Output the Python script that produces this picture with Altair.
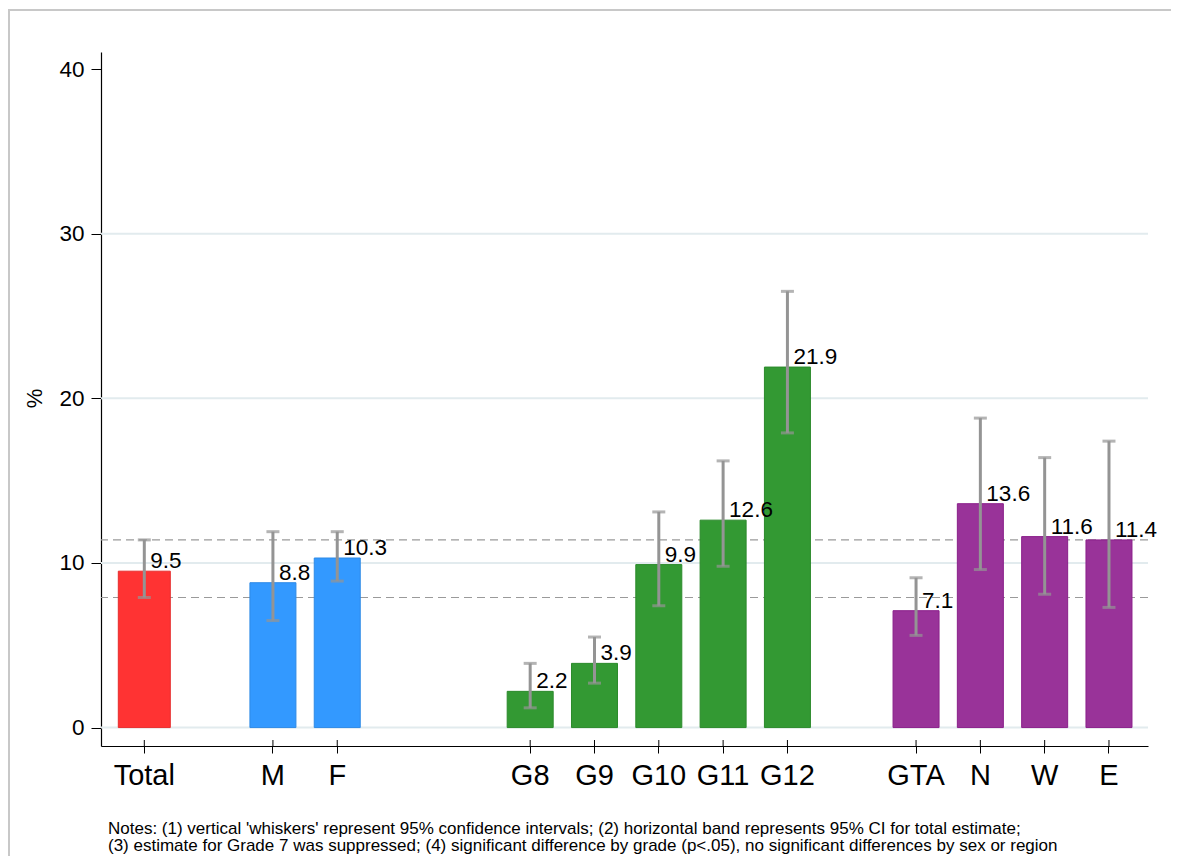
import altair as alt
import pandas as pd

# ---------------- data ----------------
categories = ["Total", "M", "F", "G7", "G8", "G9", "G10", "G11", "G12", "GTA", "N", "W", "E"]
groups = ["Total", "Sex", "Sex", "Grade", "Grade", "Grade", "Grade", "Grade", "Grade",
          "Region", "Region", "Region", "Region"]
estimates = [9.5, 8.8, 10.3, None, 2.2, 3.9, 9.9, 12.6, 21.9, 7.1, 13.6, 11.6, 11.4]
ci_low = [7.9, 6.5, 8.9, None, 1.2, 2.7, 7.4, 9.8, 17.9, 5.6, 9.6, 8.1, 7.3]
ci_high = [11.4, 11.9, 11.9, None, 3.9, 5.5, 13.1, 16.2, 26.5, 9.1, 18.8, 16.4, 17.4]

group_order = ["Total", "Sex", "Grade", "Region"]
group_colors = ["#FF3333", "#3399FF", "#339933", "#993399"]
group_strokes = ["#E62E2E", "#2E8AE6", "#2B8A2B", "#8A1F8A"]

y_ticks = [0, 10, 20, 30, 40]
grid_values = [0, 10, 20, 30]

notes = [
    "Notes: (1) vertical 'whiskers' represent 95% confidence intervals; (2) horizontal band represents 95% CI for total estimate;",
    "(3) estimate for Grade 7 was suppressed; (4) significant difference by grade (p<.05), no significant differences by sex or region",
]

# ---------------- tables ----------------
df_all = pd.DataFrame({"cat": categories, "group": groups, "est": estimates,
                       "lo": ci_low, "hi": ci_high})
df = df_all.dropna(subset=["est"]).reset_index(drop=True)

# x domain: categories with a blank slot between groups
domain = []
for gi, g in enumerate(group_order):
    if gi > 0:
        domain.append(" " * gi)
    domain += [c for c, gg in zip(categories, groups) if gg == g]
shown = list(df["cat"])

total_row = df[df["cat"] == "Total"].iloc[0]
band_df = pd.DataFrame({"v": [total_row["lo"], total_row["hi"]]})

W, H = 1047, 694
FONT = "Liberation Sans"

xscale = alt.Scale(domain=domain, paddingInner=0, paddingOuter=0.14, align=0.619, round=False)
yscale = alt.Scale(domain=[-1.12, 41.04], nice=False, zero=False)

x_enc = alt.X("cat:N", scale=xscale, sort=domain,
              axis=alt.Axis(values=shown, title=None, labelAngle=0, labelFontSize=29,
                            labelFont=FONT, labelColor="black", labelBaseline="alphabetic",
                            labelPadding=31, tickSize=7, tickColor="black", tickWidth=1,
                            domainColor="black", domainWidth=1.2, grid=False))
y_axis = alt.Axis(values=y_ticks, title="%", titleFontSize=22, titleFont=FONT,
                  titleFontWeight="normal", titleColor="black", titleAngle=270,
                  titleX=-67, titleY=346, titleAlign="center", titleBaseline="middle",
                  labelFontSize=22.5, labelFont=FONT, labelColor="black", labelPadding=7,
                  tickSize=10, tickColor="black", tickWidth=1, domainColor="black",
                  domainWidth=1.2, grid=False)

color_enc = alt.Color("group:N", scale=alt.Scale(domain=group_order, range=group_colors), legend=None)
stroke_enc = alt.Stroke("group:N", scale=alt.Scale(domain=group_order, range=group_strokes), legend=None)

grid = alt.Chart(pd.DataFrame({"v": grid_values})).mark_rule(
    color="#E2EBEE", strokeWidth=2).encode(y=alt.Y("v:Q", scale=yscale, axis=y_axis))

band_lines = alt.Chart(band_df).mark_rule(
    color="#9A9A9A", strokeWidth=1.2, strokeDash=[8, 5]).encode(y=alt.Y("v:Q", scale=yscale))

base = alt.Chart(df)

bars_total = base.transform_filter(alt.datum.cat == "Total").mark_bar(width=52, strokeWidth=1).encode(
    x=x_enc, y=alt.Y("est:Q", scale=yscale), y2=alt.datum(0), color=color_enc, stroke=stroke_enc)
bars_rest = base.transform_filter(alt.datum.cat != "Total").mark_bar(width=46, strokeWidth=1).encode(
    x=x_enc, y=alt.Y("est:Q", scale=yscale), y2=alt.datum(0), color=color_enc, stroke=stroke_enc)

whisk = base.mark_rule(color="#949494", strokeWidth=3).encode(
    x=x_enc, y=alt.Y("lo:Q", scale=yscale), y2="hi:Q")

caps = base.transform_fold(["lo", "hi"], as_=["k", "cv"]).mark_tick(
    color="#949494", size=13, thickness=3, orient="horizontal").encode(
    x=x_enc, y=alt.Y("cv:Q", scale=yscale))

labels = base.mark_text(align="left", baseline="alphabetic", dx=6, dy=-3,
                        fontSize=22.5, font=FONT, color="black").encode(
    x=x_enc, y=alt.Y("est:Q", scale=yscale), text=alt.Text("est:Q", format=".1f"))

inner_ticks = base.mark_rule(color="black", strokeWidth=1).encode(
    x=x_enc, y=alt.value(H - 6), y2=alt.value(H))

notes_layer = alt.Chart(pd.DataFrame({"t": ["\n".join(notes)]})).mark_text(
    align="left", baseline="alphabetic", fontSize=17, font=FONT, color="black",
    lineBreak="\n", lineHeight=17).encode(
    x=alt.value(7), y=alt.value(782), text="t:N")

one = pd.DataFrame({"a": [0]})
border_top = alt.Chart(one).mark_rect(color="#C8C8C8", strokeWidth=0).encode(
    x=alt.value(-93), x2=alt.value(1070), y=alt.value(-43), y2=alt.value(-41))
border_left = alt.Chart(one).mark_rule(color="#C8C8C8", strokeWidth=2).encode(
    x=alt.value(-92), y=alt.value(-43), y2=alt.value(820))

chart = alt.layer(
    grid, band_lines, bars_total, bars_rest, whisk, caps, labels, inner_ticks,
    notes_layer, border_top, border_left
).properties(
    width=W, height=H,
    padding={"left": 93, "top": 44, "right": 23, "bottom": 110},
    autosize=alt.AutoSizeParams(type="none"),
    background="white",
).configure(font=FONT).configure_view(strokeWidth=0)

chart.save("out.html", embed_options={"renderer": "svg", "actions": False})
